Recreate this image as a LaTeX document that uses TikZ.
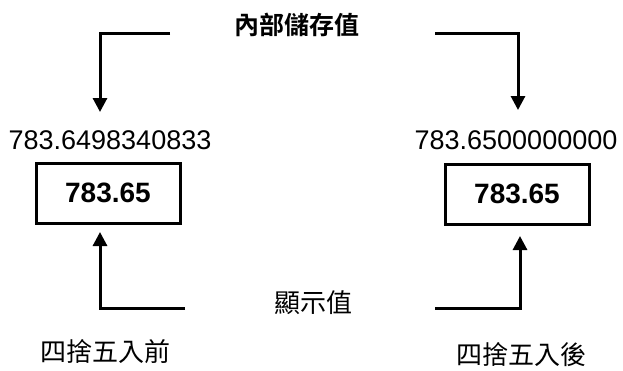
\documentclass[tikz,border=0pt]{standalone}
\usepackage{fontspec}
\setmainfont{Liberation Sans}
\newfontfamily\cjk{Noto Sans CJK TC}
\newfontfamily\cjkb{Noto Sans CJK TC Bold}
\usetikzlibrary{arrows.meta}
\begin{document}
\begin{tikzpicture}[x=1pt,y=-1pt,
  conn/.style={line width=3pt,-{Triangle[width=14pt,length=14pt]}},
  valbox/.style={draw,line width=3pt,minimum width=144pt,minimum height=60pt,inner sep=0pt,font=\fontsize{28}{30}\selectfont\bfseries},
  numtxt/.style={inner sep=0pt,font=\fontsize{27}{29}\selectfont},
  cjktxt/.style={inner sep=0pt,font=\fontsize{26}{28}\selectfont\cjk},
  titletxt/.style={inner sep=0pt,font=\fontsize{25}{27}\selectfont\cjkb}]
\useasboundingbox (0,0) rectangle (623,370);
\node[titletxt] (title) at (297,25) {內部儲存值};
\node[numtxt] (lnum) at (110,140) {783.6498340833};
\node[numtxt] (rnum) at (516,140) {783.6500000000};
\node[valbox] (lbox) at (108,193) {783.65};
\node[valbox] (rbox) at (517,194) {783.65};
\node[cjktxt] (disp) at (313,303) {顯示值};
\node[cjktxt] (before) at (105,352) {四捨五入前};
\node[cjktxt] (after) at (521,355) {四捨五入後};
\coordinate (lt) at (170,33);
\coordinate (ltip) at (100,112);
\coordinate (rt) at (435,33);
\coordinate (rtip) at (518,110);
\coordinate (lb) at (185,308);
\coordinate (lbtip) at (100,232);
\coordinate (rb) at (435,308);
\coordinate (rbtip) at (520,236);
\draw[conn] (lt) -| (ltip);
\draw[conn] (rt) -| (rtip);
\draw[conn] (lb) -| (lbtip);
\draw[conn] (rb) -| (rbtip);
\end{tikzpicture}
\end{document}
